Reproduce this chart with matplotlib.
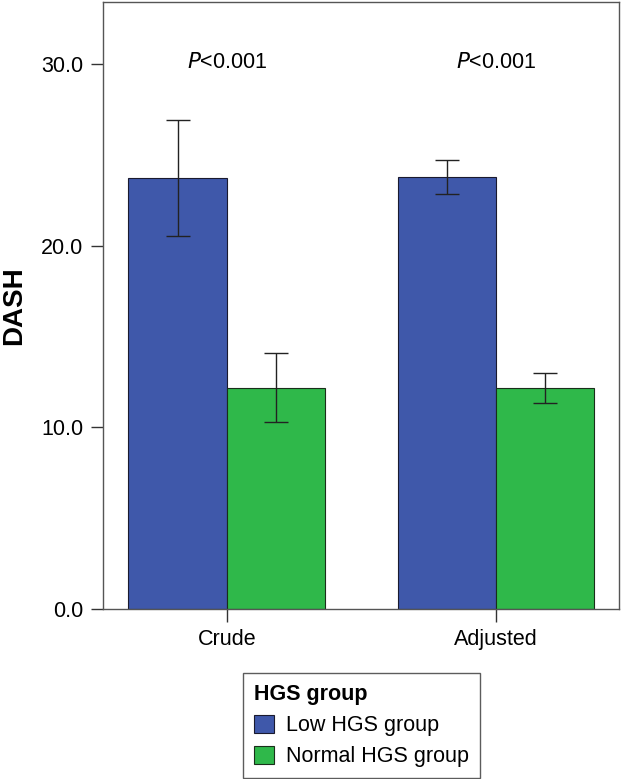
import numpy as np
import matplotlib.pyplot as plt

plt.rcParams['font.family'] = ['Liberation Sans', 'DejaVu Sans']

# datos
categorias = ['Crude', 'Adjusted']
grupos = ['Low HGS group', 'Normal HGS group']
medias_bajo = [23.75, 23.8]
medias_normal = [12.2, 12.2]
ic_bajo_inf = [20.55, 22.86]
ic_bajo_sup = [26.92, 24.72]
ic_normal_inf = [10.31, 11.36]
ic_normal_sup = [14.1, 13.0]
textos_p = ['<0.001', '<0.001']

azul = '#3f58aa'
verde = '#2fb84a'

fig = plt.figure(figsize=(6.22, 7.79), dpi=100)
ax = fig.add_axes([0.165, 0.218, 0.83, 0.779])

x = np.arange(len(categorias))
ancho = 0.365

err_bajo = [np.array(medias_bajo) - np.array(ic_bajo_inf), np.array(ic_bajo_sup) - np.array(medias_bajo)]
err_normal = [np.array(medias_normal) - np.array(ic_normal_inf), np.array(ic_normal_sup) - np.array(medias_normal)]

ax.bar(x - ancho / 2, medias_bajo, ancho, color=azul, edgecolor='#1a1a2e', linewidth=0.8,
       label=grupos[0], zorder=2)
ax.bar(x + ancho / 2, medias_normal, ancho, color=verde, edgecolor='#1a2e1a', linewidth=0.8,
       label=grupos[1], zorder=2)
ax.errorbar(x - ancho / 2, medias_bajo, yerr=err_bajo, fmt='none', ecolor='#222222',
            elinewidth=1, capsize=8.5, capthick=1, zorder=3)
ax.errorbar(x + ancho / 2, medias_normal, yerr=err_normal, fmt='none', ecolor='#222222',
            elinewidth=1, capsize=8.5, capthick=1, zorder=3)

# textos de P
for i, t in enumerate(textos_p):
    ax.text(x[i], 30.1, r'$\it{P}$' + t, ha='center', va='center', fontsize=15.5)

ax.set_xlim(-0.461, 1.457)
ax.set_ylim(0, 33.4)
ax.set_xticks(x)
ax.set_xticklabels(categorias, fontsize=15.5)
ax.set_yticks([0, 10, 20, 30])
ax.set_yticklabels(['0.0', '10.0', '20.0', '30.0'], fontsize=15.5)
ax.tick_params(axis='both', direction='out', length=9, width=1, color='#333333', pad=5)
ax.set_ylabel('DASH', fontsize=20, fontweight='bold', labelpad=10)
for s in ax.spines.values():
    s.set_color('#555555')
    s.set_linewidth(1)

leg = fig.legend(loc='upper center', bbox_to_anchor=(0.581, 0.136), title='HGS group',
                 fontsize=15.5, title_fontproperties={'weight': 'bold', 'size': 15.5},
                 frameon=True, fancybox=False, edgecolor='#333333', handlelength=0.93,
                 handleheight=0.93, handletextpad=0.55, borderpad=0.5, labelspacing=0.45,
                 borderaxespad=0)
leg._legend_box.align = 'left'
leg.get_frame().set_linewidth(1)

plt.savefig('out.png', dpi=100)
